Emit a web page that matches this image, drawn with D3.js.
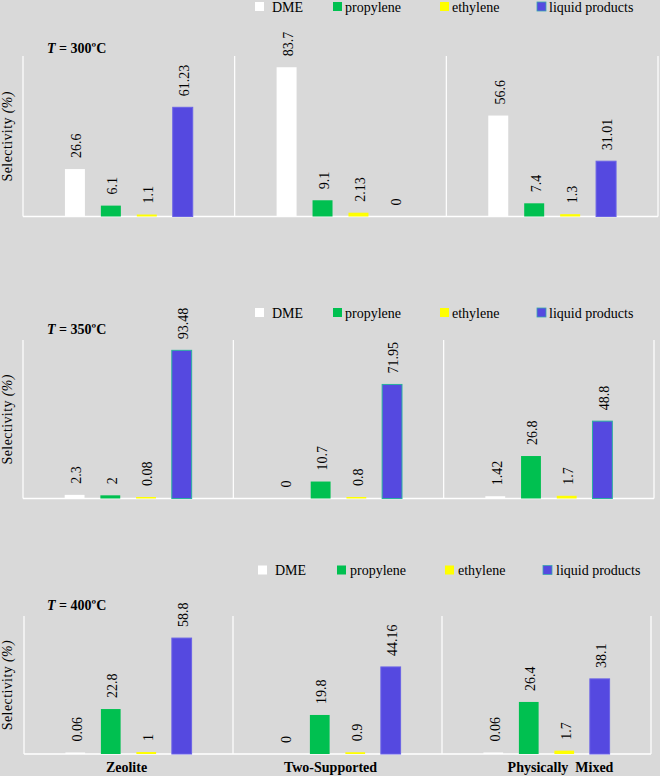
<!DOCTYPE html>
<html>
<head>
<meta charset="utf-8">
<script src="https://cdn.jsdelivr.net/npm/d3@7/dist/d3.min.js"></script>
<style>
  html, body { margin: 0; padding: 0; background: #d9d9d9; }
  svg { display: block; }
</style>
</head>
<body>
<svg id="chart" width="660" height="776"></svg>
<script>
// ---- data ----
const categories = ["Zeolite", "Two-Supported", "Physically  Mixed"];
const series = ["DME", "propylene", "ethylene", "liquid products"];
const temperatures = ["300", "350", "400"];
const values300 = [[26.6, 6.1, 1.1, 61.23], [83.7, 9.1, 2.13, 0], [56.6, 7.4, 1.3, 31.01]];
const values350 = [[2.3, 2, 0.08, 93.48], [0, 10.7, 0.8, 71.95], [1.42, 26.8, 1.7, 48.8]];
const values400 = [[0.06, 22.8, 1, 58.8], [0, 19.8, 0.9, 44.16], [0.06, 26.4, 1.7, 38.1]];
const yMax = [90, 100, 70];
const allValues = [values300, values350, values400];

// ---- style / layout ----
const FONT = "Liberation Serif";
const colors = ["#ffffff", "#00c050", "#ffff00", "#5549e0"];
const layouts = [
  { left: 23, right: 658, top: 56, base: 216.5, legendY: 6.5, titleY: 53, stroke: "#6a62e6" },
  { left: 23, right: 654, top: 340, base: 498.5, legendY: 312.5, titleY: 334, stroke: "#2ab0a0" },
  { left: 24, right: 651, top: 616, base: 754, legendY: 570, titleY: 610, stroke: "#6a62e6" }
];
const legendX = [[255, 272], [333, 345], [440, 452], [537, 549]];
const legendX3 = [[258, 275], [337, 350], [445, 458], [543, 556]];
const catDx = [-2, -7, 14];

const svg = d3.select("#chart");

layouts.forEach((L, pi) => {
  const data = allValues[pi];
  const g = svg.append("g").attr("font-family", FONT);
  const x0 = d3.scaleBand().domain(categories).range([L.left, L.right]).padding(0);
  const x1 = d3.scaleBand().domain(series).range([0, x0.bandwidth()])
    .paddingInner(0.444).paddingOuter(1.167);
  const y = d3.scaleLinear().domain([0, yMax[pi]]).range([L.base, L.top]);

  // axis lines (white)
  const bounds = categories.map(c => x0(c)).concat([L.right]);
  g.selectAll("line.sep").data(bounds).join("line")
    .attr("x1", d => d).attr("x2", d => d)
    .attr("y1", L.top).attr("y2", L.base)
    .attr("stroke", "#ffffff").attr("stroke-width", 1.2);
  g.append("line").attr("x1", L.left).attr("x2", L.right)
    .attr("y1", L.base).attr("y2", L.base)
    .attr("stroke", "#ffffff").attr("stroke-width", 1.5);

  // bars
  categories.forEach((c, ci) => {
    series.forEach((s, si) => {
      const v = data[ci][si];
      const bx = x0(c) + x1(s);
      let h = L.base - y(v);
      if (v > 0 && h < 1.5) h = 1.5;
      if (v > 0) {
        g.append("rect")
          .attr("x", bx).attr("y", L.base - h)
          .attr("width", x1.bandwidth()).attr("height", h)
          .attr("fill", colors[si])
          .attr("stroke", si === 3 ? L.stroke : "none")
          .attr("stroke-width", si === 3 ? 1 : 0);
      }
      const lx = bx + x1.bandwidth() / 2 + 1.5;
      const ly = L.base - h - 11;
      g.append("text")
        .attr("transform", `translate(${lx},${ly}) rotate(-90)`)
        .attr("dy", "0.35em")
        .attr("font-family", FONT)
        .attr("font-size", 14)
        .attr("fill", "#000")
        .text(String(v));
    });
  });

  // title
  const t = g.append("text").attr("x", 47).attr("y", L.titleY)
    .attr("font-family", FONT)
    .attr("font-size", 14).attr("font-weight", "bold").attr("fill", "#000");
  t.append("tspan").attr("font-style", "italic").text("T");
  t.append("tspan").text(" = " + temperatures[pi] + "ºC");

  // y title
  const yc = (L.top + L.base) / 2;
  const yt = g.append("text")
    .attr("transform", `translate(12,${yc}) rotate(-90)`)
    .attr("text-anchor", "middle").attr("font-size", 14)
    .attr("font-family", FONT)
    .attr("letter-spacing", 0.4).attr("fill", "#000");
  yt.append("tspan").text("Selectivity ");
  yt.append("tspan").attr("font-style", "italic").text("(%)");

  // legend
  const lx = pi === 2 ? legendX3 : legendX;
  series.forEach((s, si) => {
    g.append("rect")
      .attr("x", lx[si][0]).attr("y", L.legendY - 4.5)
      .attr("width", 9).attr("height", 9)
      .attr("fill", colors[si])
      .attr("stroke", si === 3 ? "#3aa8b0" : "none").attr("stroke-width", 0.8);
    g.append("text")
      .attr("x", lx[si][1]).attr("y", L.legendY + 5)
      .attr("font-family", FONT)
      .attr("font-size", 14).attr("fill", "#000")
      .text(s);
  });

  // category labels only for last panel
  if (pi === 2) {
    g.selectAll("text.cat").data(categories).join("text")
      .attr("x", (d, i) => x0(d) + x0.bandwidth() / 2 + catDx[i])
      .attr("y", 772)
      .attr("text-anchor", "middle")
      .attr("font-family", FONT)
      .attr("font-size", 14).attr("font-weight", "bold")
      .attr("fill", "#000")
      .style("white-space", "pre")
      .text(d => d);
  }
});
</script>
</body>
</html>
